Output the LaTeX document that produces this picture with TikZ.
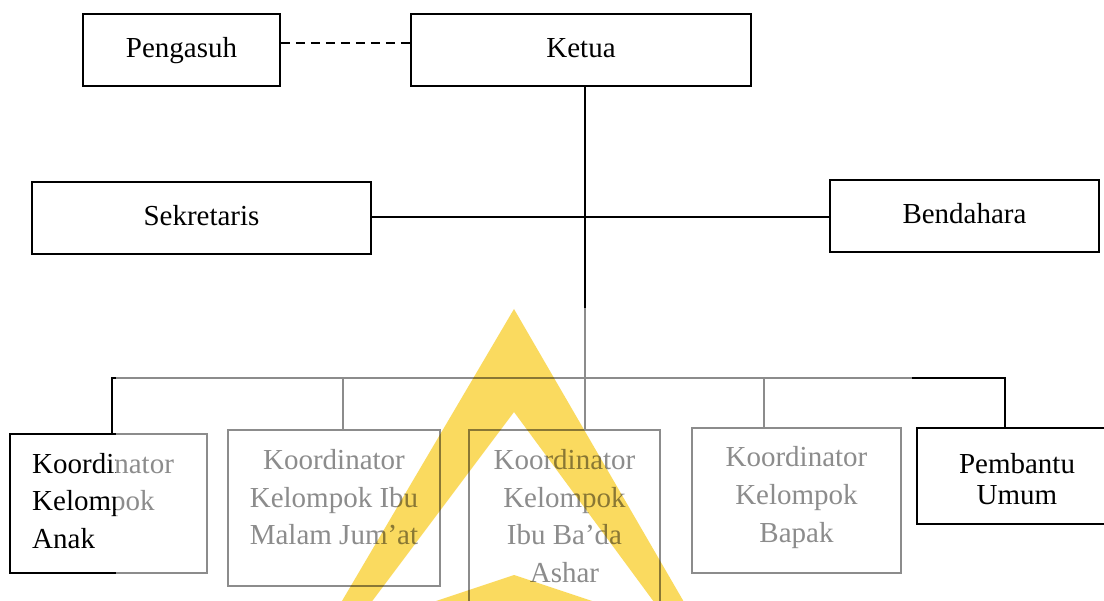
\documentclass[tikz,border=0pt]{standalone}
\usepackage{fontspec}
\setmainfont{Liberation Serif}
\definecolor{logoyellow}{RGB}{250,218,95}
\begin{document}
\begin{tikzpicture}[x=1pt,y=-1pt,
  box/.style={draw=black, line width=1.6pt, rectangle, inner sep=0pt},
  lbl/.style={font=\fontsize{29}{38}\selectfont, inner sep=0pt, anchor=base, align=center},
  conn/.style={line width=1.6pt},
  dashline/.style={line width=1.4pt, dash pattern=on 9pt off 6pt}]
\useasboundingbox (0,0) rectangle (1104,601);
\clip (0,0) rectangle (1104,601);
\fill[white] (0,0) rectangle (1104,601);
% top boxes
\node[box, minimum width=197pt, minimum height=72pt] (peng) at (181.5,50) {};
\node[box, minimum width=340pt, minimum height=72pt] (ketua) at (581,50) {};
\node[box, minimum width=339pt, minimum height=72pt] (sek) at (201.5,218) {};
\node[box, minimum width=269pt, minimum height=72pt] (bend) at (964.5,216) {};
\node[lbl] (tpeng) at (181.5,58) {Pengasuh};
\node[lbl] (tketua) at (581,58) {Ketua};
\node[lbl] (tsek) at (201.5,226) {Sekretaris};
\node[lbl] (tbend) at (964.5,224) {Bendahara};
% bottom boxes
\node[box, minimum width=197pt, minimum height=139pt] (k1) at (108.5,503.5) {};
\node[box, minimum width=212pt, minimum height=156pt] (k2) at (334,508) {};
\node[box, minimum width=191pt, minimum height=190pt] (k3) at (564.5,525) {};
\node[box, minimum width=209pt, minimum height=145pt] (k4) at (796.5,500.5) {};
\node[box, minimum width=200pt, minimum height=96pt] (k5) at (1017,476) {};
\node[lbl, anchor=base west, align=left] (t1) at (32,549) {Koordinator\\Kelompok\\Anak};
\node[lbl] (t2) at (334,545) {Koordinator\\Kelompok Ibu\\Malam Jum’at};
\node[lbl] (t3) at (564.5,583) {Koordinator\\Kelompok\\Ibu Ba’da\\Ashar};
\node[lbl] (t4) at (796.5,543) {Koordinator\\Kelompok\\Bapak};
\node[lbl, font=\fontsize{29}{31}\selectfont] (t5) at (1017,505) {Pembantu\\Umum};
% connectors
\coordinate (dl) at (300,43);
\coordinate (cross) at (585,217);
\coordinate (hub) at (585,378);
\coordinate (b1) at (112,378);
\coordinate (b2) at (343,378);
\coordinate (b4) at (764,378);
\coordinate (b5) at (1005,378);
\draw[dashline] (dl -| peng.east) -- (dl -| ketua.west);
\draw[conn] (ketua.south -| hub) -- (hub);
\draw[conn] (cross -| sek.east) -- (cross -| bend.west);
\draw[conn] (b1 |- k1.north) -- (b1) -- (b5) -- (b5 |- k5.north);
\draw[conn] (b2) -- (b2 |- k2.north);
\draw[conn] (hub) -- (hub |- k3.north);
\draw[conn] (b4) -- (b4 |- k4.north);
% watermark
\fill[white, opacity=0.55] (116,308) rectangle (912,610);
\begin{scope}[blend mode=multiply]
\fill[logoyellow] (514,309) -- (706,640) -- (682,640) -- (514,412) -- (343,640) -- (319,640) -- cycle;
\fill[logoyellow] (514,575) -- (649,620) -- (379,620) -- cycle;
\end{scope}
\end{tikzpicture}
\end{document}
